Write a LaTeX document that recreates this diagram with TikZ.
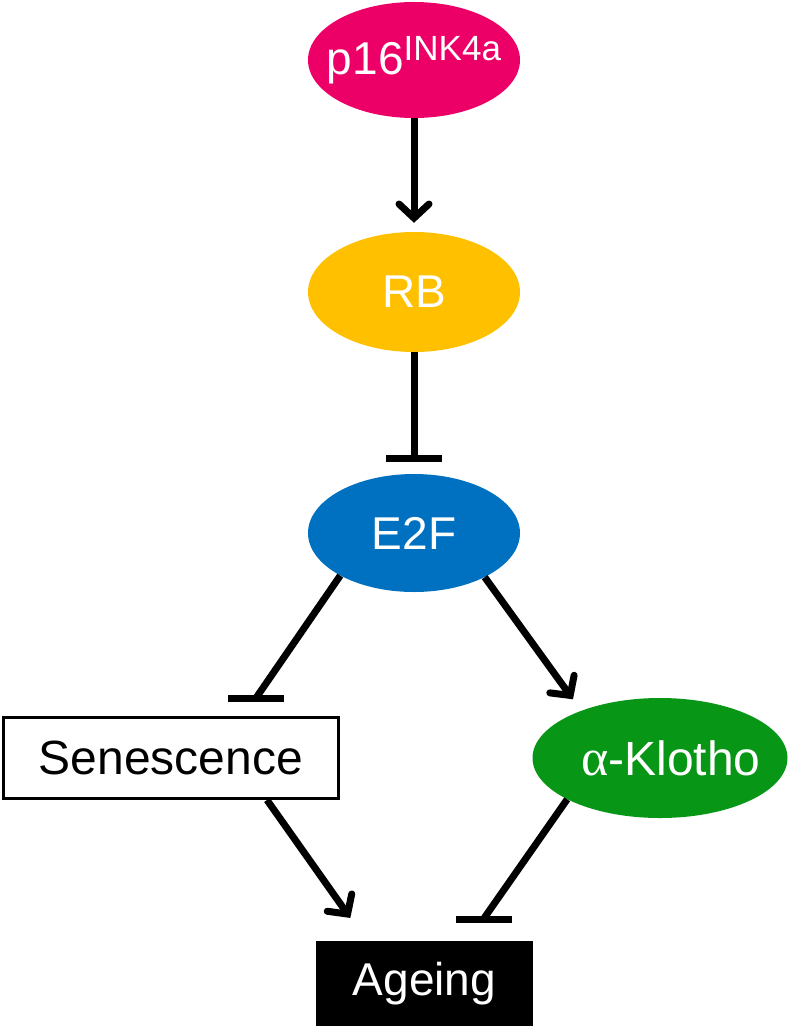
\documentclass[tikz,border=0pt]{standalone}
\usepackage{fontspec}
\setmainfont{Liberation Sans}
\newfontfamily\grkfont{Liberation Serif}
\usetikzlibrary{arrows.meta,shapes.geometric}
\definecolor{pinkc}{RGB}{236,0,104}
\definecolor{yellowc}{RGB}{255,192,0}
\definecolor{bluec}{RGB}{0,112,192}
\definecolor{greenc}{RGB}{8,150,22}
\begin{document}
\begin{tikzpicture}[x=1pt,y=-1pt,
  bubble/.style={ellipse, inner sep=0pt, text=white, font=\fontsize{46}{55}\selectfont},
  boxnode/.style={rectangle, inner sep=0pt, font=\fontsize{46}{55}\selectfont},
  act/.style={line width=7pt, -{Straight Barb[length=14pt,width=30pt,line cap=round]}},
  inh/.style={line width=7pt},
  barline/.style={line width=7pt},
]
\useasboundingbox (0,0) rectangle (788,1026);

\node[bubble, fill=pinkc, minimum width=212pt, minimum height=116pt] (p16) at (414,60)
  {\makebox[0pt]{p16\raisebox{14pt}{\fontsize{35}{40}\selectfont INK4a}}};
\node[bubble, fill=yellowc, minimum width=212pt, minimum height=120pt] (rb) at (414,292) {\makebox[0pt]{RB}};
\node[bubble, fill=bluec, minimum width=212pt, minimum height=118pt] (e2f) at (414,533) {\makebox[0pt]{E2F}};
\node[boxnode, draw=black, line width=3pt, fill=white, minimum width=335pt, minimum height=81pt,
  font=\fontsize{48}{56}\selectfont] (sen) at (171,758) {Senescence};
\node[bubble, fill=greenc, minimum width=255pt, minimum height=120pt,
  font=\fontsize{48}{56}\selectfont] (klo) at (660,758)
  {\makebox[0pt]{\hspace*{22pt}{\grkfont\fontsize{52}{56}\selectfont α}-Klotho}};
\node[boxnode, fill=black, text=white, minimum width=217pt, minimum height=85pt] (age) at (424.5,983.5) {Ageing};

\coordinate (b1) at (414,458);
\coordinate (b2) at (256,698);
\coordinate (b3) at (483.5,919);

% p16 -> RB
\draw[act, shorten >=9pt] (p16.south) -- (rb.north);
% RB -| E2F
\draw[inh] (rb.south) -- (b1);
\draw[barline] ([xshift=-28pt]b1) -- ([xshift=28pt]b1);
% E2F -| Senescence
\draw[inh] (e2f.210) -- (b2);
\draw[barline] ([xshift=-28pt]b2) -- ([xshift=28pt]b2);
% E2F -> Klotho
\draw[act, shorten >=14pt] (e2f.-32) -- (klo.149);
% Senescence -> Ageing
\draw[act, shorten >=28pt] ([xshift=96pt]sen.south) -- ([xshift=-58pt]age.north);
% Klotho -| Ageing
\draw[inh] (klo.204) -- (b3);
\draw[barline] ([xshift=-28pt]b3) -- ([xshift=28pt]b3);
\end{tikzpicture}
\end{document}
